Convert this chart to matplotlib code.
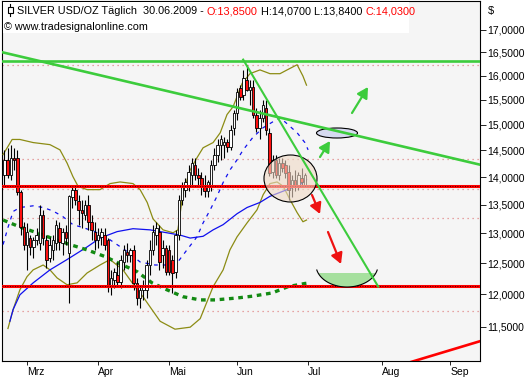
import numpy as np
import matplotlib
matplotlib.use("Agg")
import matplotlib.pyplot as plt
from matplotlib import patches, transforms
from matplotlib.ticker import FixedLocator, FuncFormatter, NullLocator

plt.rcParams['font.family'] = ['Liberation Sans', 'DejaVu Sans']

#
# data (trading day index, 0 = 02.03.2009)
#
day = np.arange(-7, 87)
opens = [14.04, 14.32, 14.04, 14.36, 14.36, 13.72, 13.11, 12.81, 12.92, 12.77,
         12.89, 12.84, 13.32, 12.89, 12.59, 12.72, 12.84, 13.10, 12.84, 13.03,
         12.67, 13.63, 13.77, 13.56, 13.41, 13.32, 13.50, 13.20, 13.03, 12.89,
         12.94, 12.97, 12.89, 12.12, 12.23, 12.31, 12.20, 12.52, 12.69, 12.64,
         12.72, 12.18, 11.94, 12.07, 12.07, 12.47, 12.72, 12.97, 13.03, 12.64,
         12.76, 12.72, 12.56, 12.36, 12.97, 13.59, 13.77, 13.86, 14.04, 14.23,
         14.04, 13.99, 13.86, 13.74, 13.86, 14.23, 14.42, 14.61, 14.61, 14.67,
         14.57, 14.94, 15.24, 15.74, 15.60, 15.91, 15.70, 15.76, 15.20, 14.94,
         15.14, 15.34, 14.84, 14.10, 14.32, 14.04, 14.26, 14.23, 14.10, 13.81,
         13.95, 13.86, 13.99, 13.85]
highs = [14.51, 14.55, 14.61, 14.55, 14.51, 13.77, 13.20, 13.18, 12.97, 12.94,
         13.10, 13.50, 13.41, 12.97, 12.94, 12.97, 13.23, 13.20, 13.10, 13.15,
         13.68, 13.86, 13.83, 13.68, 13.59, 13.59, 13.68, 13.32, 13.20, 13.10,
         13.10, 13.10, 12.92, 12.39, 12.42, 12.52, 12.64, 12.81, 12.84, 12.76,
         12.81, 12.26, 12.15, 12.23, 12.56, 12.89, 13.15, 13.20, 13.15, 12.89,
         12.81, 12.81, 12.64, 13.06, 13.68, 13.91, 13.99, 14.23, 14.36, 14.36,
         14.17, 14.10, 14.04, 13.95, 14.32, 14.55, 14.71, 14.80, 14.75, 14.71,
         15.00, 15.30, 15.74, 15.80, 16.12, 16.23, 15.91, 15.91, 15.34, 15.30,
         15.50, 15.50, 14.94, 14.42, 14.42, 14.36, 14.36, 14.32, 14.23, 14.04,
         14.13, 14.10, 14.17, 14.07]
lows = [13.86, 13.99, 13.95, 14.13, 13.68, 12.97, 12.72, 12.39, 12.64, 12.59,
        12.81, 12.72, 12.81, 12.42, 12.52, 12.56, 12.72, 12.72, 12.64, 12.81,
        11.86, 13.45, 13.50, 13.15, 13.10, 13.23, 13.06, 12.89, 12.72, 12.76,
        12.81, 12.72, 12.04, 11.99, 12.10, 12.15, 12.10, 12.39, 12.52, 12.52,
        12.07, 11.83, 11.79, 11.91, 11.94, 12.31, 12.64, 12.81, 12.39, 12.42,
        12.31, 12.31, 12.02, 12.26, 12.89, 13.50, 13.63, 13.74, 13.86, 13.95,
        13.81, 13.68, 13.63, 13.63, 13.74, 14.13, 14.28, 14.32, 14.36, 14.47,
        14.51, 14.80, 15.10, 15.50, 15.50, 15.68, 15.40, 15.14, 14.86, 14.71,
        15.06, 14.80, 14.02, 13.99, 13.99, 13.95, 14.10, 13.99, 13.59, 13.63,
        13.74, 13.77, 13.81, 13.84]
closes = [14.32, 14.04, 14.36, 14.32, 13.72, 13.11, 12.81, 13.03, 12.77, 12.89,
          12.97, 13.32, 12.92, 12.56, 12.81, 12.89, 13.15, 12.86, 13.03, 12.92,
          13.65, 13.77, 13.59, 13.41, 13.36, 13.50, 13.20, 13.06, 12.89, 12.97,
          13.03, 12.81, 12.12, 12.26, 12.36, 12.20, 12.56, 12.72, 12.64, 12.72,
          12.18, 11.94, 12.07, 12.15, 12.47, 12.72, 13.03, 13.10, 12.52, 12.76,
          12.36, 12.36, 12.34, 12.97, 13.59, 13.81, 13.90, 14.10, 14.26, 14.04,
          13.99, 13.86, 13.74, 13.90, 14.23, 14.42, 14.61, 14.71, 14.67, 14.57,
          14.90, 15.24, 15.66, 15.56, 15.95, 15.70, 15.76, 15.20, 14.94, 15.14,
          15.40, 14.90, 14.08, 14.32, 14.04, 14.26, 14.17, 14.08, 13.77, 13.95,
          13.86, 14.04, 13.91, 14.03]

# indicators
bb_up_x = [-7.4, -4.6, -2.2, 1.9, 7.1, 10.2, 12.4, 14.2, 15.8, 18.6, 22.6, 25.7,
           28.8, 32.8, 35, 37.2, 39, 42.1, 45.2, 46.7, 48.3, 50.5, 52.6, 54.5,
           57.6, 59.8, 61.9, 63.8, 66.6, 69, 72.1, 75.2, 78.3, 80.5, 83.6, 85.4, 86.5]
bb_up_y = [14.42, 14.71, 14.71, 14.65, 14.61, 14.51, 14.26, 14.01, 13.83, 13.77, 13.77, 13.88,
           13.91, 13.88, 13.77, 13.54, 13.25, 13.06, 13.01, 13.06, 13.72, 14.13, 14.36, 14.55,
           14.65, 14.84, 15.20, 15.36, 15.84, 16.04, 16.12, 16.04, 16.04, 16.12, 16.23, 15.99, 15.80]
bb_lo_x = [-5.9, -4.3, -2.2, 0, 1.9, 5, 7.1, 9.3, 12.4, 15.5, 18.6, 22.6, 25.7, 29.7,
           34.1, 35.9, 38.1, 41.2, 45.8, 50.5, 53.6, 57.6, 60.7, 62.8, 65, 68.1, 71.2,
           73.1, 75.2, 77.4, 79.3, 81.4, 83.6, 85.4, 86.5]
bb_lo_y = [11.47, 11.76, 12.07, 12.28, 12.39, 12.47, 12.39, 12.26, 12.15, 12.18, 12.34, 12.47,
           12.56, 12.39, 12.07, 11.96, 11.80, 11.58, 11.46, 11.49, 11.62, 12.12, 12.39, 12.72,
           12.94, 13.18, 13.41, 13.68, 13.88, 13.91, 13.83, 13.59, 13.36, 13.20, 13.23]
ma_long_x = [-5.3, -4.3, -2.2, 1.9, 7.1, 12.4, 18.6, 22.6, 27.9, 32.8, 38.1, 43.3, 47.4,
             50.5, 54.5, 57.6, 60.7, 65, 68.1, 72.1, 75.2, 80.5, 84.5, 86.5]
ma_long_y = [11.58, 11.76, 11.99, 12.18, 12.39, 12.56, 12.77, 12.92, 13.03, 13.08, 13.06, 13.01,
             12.97, 12.92, 12.95, 13.06, 13.15, 13.34, 13.45, 13.54, 13.65, 13.77, 13.86, 13.95]
ma_short_x = [-7.4, -5.9, -4.3, -2.2, 1.9, 5, 8, 11.1, 14.2, 17.3, 21, 25.7, 30.3, 35,
              39.6, 42.7, 46.4, 49.5, 52.6, 54.5, 56.7, 58.8, 60.7, 62.8, 65, 66.9, 69.9,
              73.1, 76.2, 78.3, 80.8, 83.6, 86, 87]
ma_short_y = [12.81, 13.10, 13.38, 13.45, 13.48, 13.45, 13.39, 13.29, 13.15, 13.10, 13.03,
              12.89, 12.72, 12.52, 12.47, 12.47, 12.50, 12.72, 12.94, 13.18, 13.41, 13.65,
              13.90, 14.13, 14.32, 14.51, 14.75, 14.94, 15.06, 15.14, 15.00, 14.84, 14.65, 14.51]
ma_slow_x = [-7.4, -2.2, 3.1, 8, 13.3, 18.6, 24.1, 28.8, 34.1, 38.7, 43.3, 48.3, 53.6,
             58.2, 65, 70, 75.9, 80.8, 86, 87.6]
ma_slow_y = [13.23, 13.11, 13.01, 12.91, 12.81, 12.72, 12.61, 12.49, 12.36, 12.18, 12.07,
             11.96, 11.91, 11.91, 11.94, 11.97, 12.02, 12.12, 12.17, 12.18]

# drawn levels and trend lines
fib_levels = [16.23, 14.34, 13.78, 13.27, 11.73]
support_levels = [13.83, 12.13]
top_level = 16.30
trend_down_x = [-7.74, 140.2]
trend_down_y = [16.50, 14.23]
trend_steep_x = [66.9, 108.7]
trend_steep_y = [16.34, 12.12]
trend_red_x = [117.0, 140.2]
trend_red_y = [10.95, 11.28]

month_pos = [0, 22, 44, 65, 87, 110, 131]
month_lab = ['Mrz', 'Apr', 'Mai', 'Jun', 'Jul', 'Aug', 'Sep']
price_ticks = [11.5, 12.0, 12.5, 13.0, 13.5, 14.0, 14.5, 15.0, 15.5, 16.0, 16.5, 17.0]

#
# figure
#
fig = plt.figure(figsize=(5.3, 3.8), dpi=100)
fig.patch.set_facecolor('white')
ax = fig.add_axes([2 / 530, 19 / 380, 478 / 530, 360 / 380])
ax.set_facecolor('#f5f5f5')
ax.set_yscale('log')
ax.set_xlim(-7.74, 140.2)
ax.set_ylim(10.99, 17.65)

# pixel transform for drawn annotations (origin top left)
px = transforms.Affine2D().scale(1, -1).translate(0, 380)

GREEN = '#3ccc3c'
for lv in fib_levels:
    ax.axhline(lv, color='#e08888', lw=0.9, ls=(0, (1, 3)), zorder=1)

ax.plot(bb_up_x, bb_up_y, color='#8c8c14', lw=0.9, zorder=3)
ax.plot(bb_lo_x, bb_lo_y, color='#8c8c14', lw=0.9, zorder=3)
ax.plot(ma_long_x, ma_long_y, color='#1010ee', lw=0.9, zorder=3)
ax.plot(ma_short_x, ma_short_y, color='#1010ee', lw=0.9, ls=(0, (3, 4)), zorder=3)
ax.plot(ma_slow_x, ma_slow_y, color='#138a13', lw=2.4, ls=(0, (1.4, 1.4)), zorder=3)

# candles
o = np.array(opens)
c = np.array(closes)
ax.vlines(day, lows, highs, color='black', lw=0.8, zorder=4)
body_lo = np.minimum(o, c)
body_h = np.abs(c - o)
cols = ['white' if cc >= oo else '#ff1010' for oo, cc in zip(o, c)]
ax.bar(day, body_h, bottom=body_lo, width=0.78, color=cols, edgecolor='black',
       lw=0.6, zorder=4)

# support lines
for lv in support_levels:
    ax.axhline(lv, color='#ff0000', lw=2.2, zorder=5)
    ax.axhline(lv, color='black', lw=0.6, ls=(0, (1, 2)), zorder=5)

# consolidation circle
ax.add_patch(patches.Ellipse((290.5, 178.5), 53, 47, transform=px, fc='#efd9c6',
                             alpha=0.6, ec='none', zorder=5))
ax.add_patch(patches.Ellipse((290.5, 178.5), 53, 47, transform=px, fc='none',
                             ec='black', lw=0.8, zorder=6))

# trend lines
ax.axhline(top_level, color=GREEN, lw=1.9, zorder=6)
ax.plot(trend_down_x, trend_down_y, color=GREEN, lw=1.9, zorder=6)
ax.plot(trend_steep_x, trend_steep_y, color=GREEN, lw=1.5, zorder=6)
ax.plot(trend_red_x, trend_red_y, color='#ff0000', lw=1.9, zorder=6)

# target ellipse
ax.add_patch(patches.Ellipse((337, 133), 41, 10, transform=px, fc='#d6daf0',
                             ec='black', lw=0.8, zorder=5.5))

# green bowl
cx, cy, a, b = 347, 265, 31, 22
t0 = np.arcsin(8 / b)
t = np.linspace(t0, np.pi - t0, 60)
bowl = np.column_stack([cx + a * np.cos(t), cy + b * np.sin(t)])
ax.add_patch(patches.Polygon(bowl, closed=True, transform=px, fc='#a6e09e',
                             ec='none', zorder=5.5))
t1 = np.arcsin(5 / b)
t = np.linspace(t1, np.pi - t1, 60)
ax.plot(cx + a * np.cos(t), cy + b * np.sin(t), transform=px, color='black',
        lw=0.8, zorder=5.6)

# arrows
arrows = [((320, 157), (330, 141), GREEN), ((352, 113), (368, 87), GREEN),
          ((312, 195), (320, 214), '#ee1111'), ((328, 232), (341, 264), '#ee1111')]
for p0, p1, col in arrows:
    ax.add_patch(patches.FancyArrowPatch(p0, p1, transform=px, color=col, lw=1.6,
                                         arrowstyle='-|>,head_length=0.45,head_width=0.25',
                                         mutation_scale=14, shrinkA=0, shrinkB=0,
                                         zorder=7))

# axes styling
for sp in ax.spines.values():
    sp.set_color('black')
    sp.set_linewidth(0.8)
ax.yaxis.tick_right()
ax.yaxis.set_major_locator(FixedLocator(price_ticks))
ax.yaxis.set_minor_locator(NullLocator())
ax.yaxis.set_major_formatter(FuncFormatter(lambda v, p: f'{v:.4f}'.replace('.', ',')))
ax.tick_params(axis='y', direction='out', length=4, width=0.6, pad=1,
               labelsize=7.5, colors='black')
ax.set_xticks(month_pos)
ax.set_xticklabels(month_lab, ha='left')
ax.tick_params(axis='x', direction='out', length=3, width=0.6, pad=1, labelsize=7.5)

fig.text(488, 14, '$', transform=px, fontsize=8)

# header
ax.add_patch(patches.Rectangle((3, 2), 406, 31, transform=px, fc='white', ec='none',
                               zorder=8))
ax.plot([10, 10], [4, 16], transform=px, color='black', lw=0.8, zorder=9)
ax.add_patch(patches.Rectangle((7.5, 7), 5, 6, transform=px, fc='white', ec='black',
                               lw=0.8, zorder=9))
r = fig.canvas.get_renderer()
pieces = [('SILVER USD/OZ Täglich  30.06.2009 - ', 'black'), ('O:13,8500', '#ff0000'),
          (' H:14,0700 L:13,8400 ', 'black'), ('C:14,0300', '#ff0000')]
x0 = 17
for s, col in pieces:
    tt = fig.text(x0, 14, s, transform=px, color=col, fontsize=7.8, zorder=10)
    x0 += tt.get_window_extent(r).width
fig.text(4, 30, '© www.tradesignalonline.com', transform=px, fontsize=7.8, zorder=10)

fig.savefig('out.png', dpi=100)
